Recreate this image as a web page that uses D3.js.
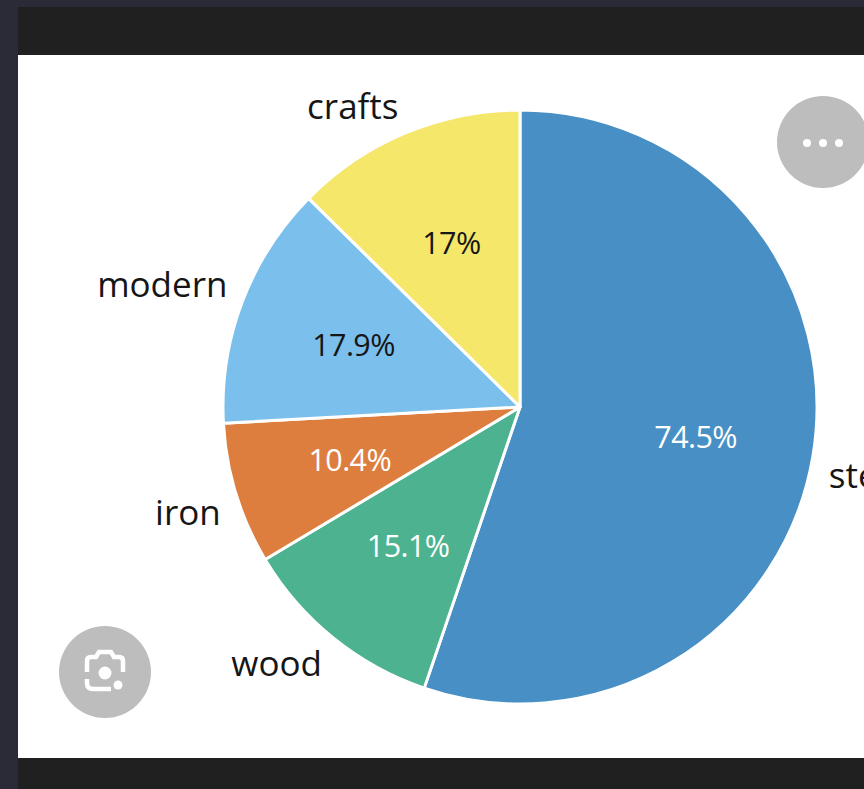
<!DOCTYPE html>
<html>
<head>
<meta charset="utf-8">
<script src="https://cdnjs.cloudflare.com/ajax/libs/d3/7.8.5/d3.min.js"></script>
<style>
  html, body { margin: 0; padding: 0; background: #2b2b38; overflow: hidden; }
  svg { display: block; }
  text { font-family: "Open Sans", "Noto Sans", sans-serif; }
</style>
</head>
<body>
<svg id="chart" width="864" height="789"></svg>
<script>
// Material shares, as printed on the slices
const categories = ["steel", "wood", "iron", "modern", "crafts"];
const values = [74.5, 15.1, 10.4, 17.9, 17];
const sliceColors = ["#478fc4", "#4cb290", "#dd7e3f", "#7bbfec", "#f4e76a"];
const valueTextColors = ["#ffffff", "#ffffff", "#ffffff", "#161616", "#161616"];
// Offsets of each outer name, clear of the rim
const nameShiftX = [-2, 0, 2, 2, 0];
const nameShiftY = [17, 12, 14, -11, -10];

const svg = d3.select("#chart");
const cx = 520, cy = 407, radius = 297;

// Dark viewer frame around the white card
svg.append("rect").attr("width", 864).attr("height", 789).attr("fill", "#2b2b38");
svg.append("rect").attr("x", 18).attr("y", 7).attr("width", 846).attr("height", 782).attr("fill", "#202020");
svg.append("rect").attr("x", 18).attr("y", 55).attr("width", 846).attr("height", 703).attr("fill", "#ffffff");

const pie = d3.pie().sort(null).value(d => d);
const arcs = pie(values);
const arc = d3.arc().innerRadius(0).outerRadius(radius);
const valueArc = d3.arc().innerRadius(178).outerRadius(178);
const nameArc = d3.arc().innerRadius(315).outerRadius(315);

const g = svg.append("g").attr("transform", `translate(${cx},${cy})`);

g.selectAll("path.slice").data(arcs).join("path")
  .attr("class", "slice")
  .attr("d", arc)
  .attr("fill", (d, i) => sliceColors[i])
  .attr("stroke", "#ffffff")
  .attr("stroke-width", 3)
  .attr("stroke-linejoin", "round");

g.selectAll("text.value").data(arcs).join("text")
  .attr("class", "value")
  .attr("transform", d => {
    const [x, y] = valueArc.centroid(d);
    return `translate(${x},${y + 1})`;
  })
  .attr("text-anchor", "middle")
  .attr("dy", "0.35em")
  .attr("font-size", 30.5)
  .attr("letter-spacing", -0.6)
  .attr("fill", (d, i) => valueTextColors[i])
  .text(d => d.value + "%");

g.selectAll("text.name").data(arcs).join("text")
  .attr("class", "name")
  .attr("transform", (d, i) => {
    const [x, y] = nameArc.centroid(d);
    return `translate(${x + nameShiftX[i]},${y + nameShiftY[i]})`;
  })
  .attr("text-anchor", (d, i) => (d.startAngle + d.endAngle) / 2 < Math.PI ? "start" : "end")
  .attr("dy", "0.35em")
  .attr("font-size", 35)
  .attr("fill", "#161616")
  .text((d, i) => categories[i]);

// Overlay buttons: "more" menu and image search
const more = svg.append("g").attr("transform", "translate(823,142)");
more.append("circle").attr("r", 46).attr("fill", "#bdbdbd");
more.selectAll("circle.dot").data([-16, 0, 16]).join("circle")
  .attr("class", "dot").attr("cx", d => d).attr("cy", 1).attr("r", 4).attr("fill", "#ffffff");

const lens = svg.append("g").attr("transform", "translate(105,672)");
lens.append("circle").attr("r", 46).attr("fill", "#bdbdbd");
lens.append("path")
  .attr("d", "M-18,0 V-11 Q-18,-15 -14,-15 H-9 L-6,-20 H6 L9,-15 H14 Q18,-15 18,-11 V0 M-18,7 V11 Q-18,17 -12,17 H6")
  .attr("fill", "none").attr("stroke", "#ffffff").attr("stroke-width", 4.5);
lens.append("circle").attr("cy", 1).attr("r", 6.5).attr("fill", "#ffffff");
lens.append("circle").attr("cx", 13).attr("cy", 13).attr("r", 4.5).attr("fill", "#ffffff");
</script>
</body>
</html>
